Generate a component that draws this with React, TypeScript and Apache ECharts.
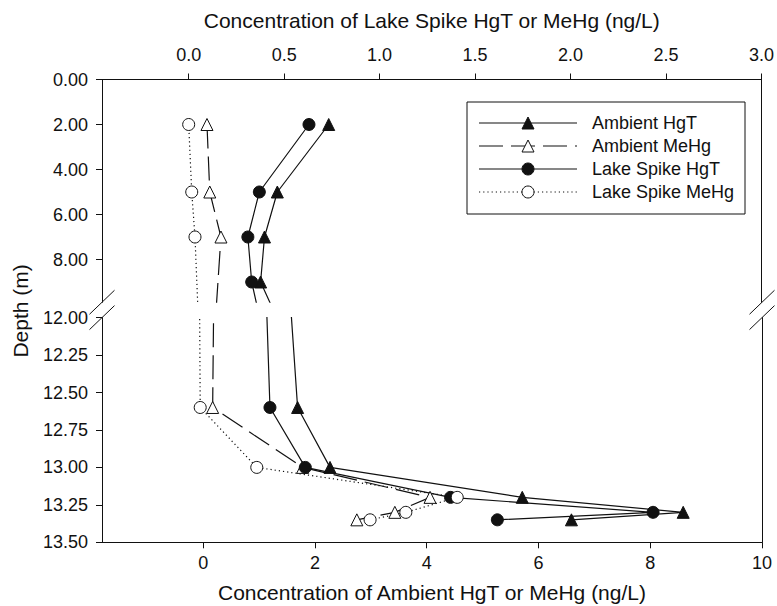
import React, { useEffect, useRef } from "react";
import * as echarts from "echarts";

// ---- data (depth in m, concentration in ng/L) ----
const ambientHgTDepth = [2, 5, 7, 9, 12.6, 13.0, 13.2, 13.3, 13.35];
const ambientHgT = [2.25, 1.33, 1.1, 1.03, 1.69, 2.27, 5.71, 8.59, 6.59];
const ambientMeHgDepth = [2, 5, 7, 12.6, 13.0, 13.2, 13.3, 13.35];
const ambientMeHg = [0.07, 0.12, 0.32, 0.17, 1.78, 4.06, 3.43, 2.75];
const lakeHgTDepth = [2, 5, 7, 9, 12.6, 13.0, 13.2, 13.3, 13.35];
const lakeHgT = [0.63, 0.37, 0.31, 0.33, 0.425, 0.61, 1.37, 2.43, 1.615];
const lakeMeHgDepth = [2, 5, 7, 12.6, 13.0, 13.2, 13.3, 13.35];
const lakeMeHg = [0.0, 0.016, 0.033, 0.06, 0.356, 1.405, 1.136, 0.949];

const ambientTicks = [0, 2, 4, 6, 8, 10];
const lakeTicks = [0, 0.5, 1, 1.5, 2, 2.5, 3];
const upperDepthTicks = [0, 2, 4, 6, 8];
const lowerDepthTicks = [12, 12.25, 12.5, 12.75, 13, 13.25, 13.5];

const seriesNames = ["Ambient HgT", "Ambient MeHg", "Lake Spike HgT", "Lake Spike MeHg"];

// ---- layout ----
const FONT = "Liberation Sans, Arial, Helvetica, sans-serif";
const L = 102;
const R = 762;
const UP_TOP = 79.5;
const UP_BOT = 302.25;
const LO_TOP = 317.6;
const LO_BOT = 542.3;
const AMB_MIN = -1.81;
const AMB_MAX = 10;
const LAKE_MIN = -0.454;
const LAKE_MAX = 3;
const UP_MAX = 9.9;
const LO_MIN = 12;
const LO_MAX = 13.5;
const INK = "#111";

function pairs(d: number[], v: number[]) {
  return d.map((y, i) => [v[i], y]);
}

const defs = [
  { name: seriesNames[0], data: pairs(ambientHgTDepth, ambientHgT), lake: false, symbol: "triangle", fill: INK, dash: "solid" as any },
  { name: seriesNames[1], data: pairs(ambientMeHgDepth, ambientMeHg), lake: false, symbol: "triangle", fill: "#fff", dash: [24, 8] as any },
  { name: seriesNames[2], data: pairs(lakeHgTDepth, lakeHgT), lake: true, symbol: "circle", fill: INK, dash: "solid" as any },
  { name: seriesNames[3], data: pairs(lakeMeHgDepth, lakeMeHg), lake: true, symbol: "circle", fill: "#fff", dash: [1.2, 3] as any },
];

export default function App() {
  const ref = useRef<HTMLDivElement>(null);
  useEffect(() => {
    if (!ref.current) return;
    const chart = echarts.init(ref.current, null, { renderer: "svg" });

    const axisLine = { show: true, onZero: false, lineStyle: { color: INK, width: 1 } };
    const tick = { show: true, length: 6, lineStyle: { color: INK, width: 1 } };
    const label = { color: INK, fontSize: 18, fontFamily: FONT };

    const grids = [
      { left: L, width: R - L, top: UP_TOP, height: UP_BOT - UP_TOP },
      { left: L, width: R - L, top: LO_TOP, height: LO_BOT - LO_TOP },
    ];

    const xAxis: any[] = [
      { gridIndex: 0, type: "value", position: "bottom", min: AMB_MIN, max: AMB_MAX, show: false, axisLine: { onZero: false }, splitLine: { show: false } },
      {
        gridIndex: 0, type: "value", position: "top", min: LAKE_MIN, max: LAKE_MAX,
        name: "Concentration of Lake Spike HgT or MeHg (ng/L)", nameLocation: "middle", nameGap: 49,
        nameTextStyle: { color: INK, fontSize: 21, fontFamily: FONT },
        axisLine, axisTick: { ...tick, customValues: lakeTicks },
        axisLabel: { ...label, margin: 16, customValues: lakeTicks, formatter: (v: number) => v.toFixed(1) },
        splitLine: { show: false },
      },
      {
        gridIndex: 1, type: "value", position: "bottom", min: AMB_MIN, max: AMB_MAX,
        name: "Concentration of Ambient HgT or MeHg (ng/L)", nameLocation: "middle", nameGap: 40,
        nameTextStyle: { color: INK, fontSize: 21, fontFamily: FONT },
        axisLine, axisTick: { ...tick, customValues: ambientTicks },
        axisLabel: { ...label, margin: 12, customValues: ambientTicks, formatter: (v: number) => String(v) },
        splitLine: { show: false },
      },
      { gridIndex: 1, type: "value", position: "top", min: LAKE_MIN, max: LAKE_MAX, show: false, axisLine: { onZero: false }, splitLine: { show: false } },
    ];

    const yAxis: any[] = [
      {
        gridIndex: 0, type: "value", position: "left", inverse: true, min: 0, max: UP_MAX,
        axisLine, axisTick: { ...tick, customValues: upperDepthTicks },
        axisLabel: { ...label, margin: 14, customValues: upperDepthTicks, formatter: (v: number) => v.toFixed(2) },
        splitLine: { show: false },
      },
      {
        gridIndex: 0, type: "value", position: "right", inverse: true, min: 0, max: UP_MAX,
        axisLine, axisTick: { show: false }, axisLabel: { show: false }, splitLine: { show: false },
      },
      {
        gridIndex: 1, type: "value", position: "left", inverse: true, min: LO_MIN, max: LO_MAX,
        axisLine, axisTick: { ...tick, customValues: lowerDepthTicks },
        axisLabel: { ...label, margin: 14, customValues: lowerDepthTicks, formatter: (v: number) => v.toFixed(2) },
        splitLine: { show: false },
      },
      {
        gridIndex: 1, type: "value", position: "right", inverse: true, min: LO_MIN, max: LO_MAX,
        axisLine, axisTick: { show: false }, axisLabel: { show: false }, splitLine: { show: false },
      },
    ];

    const series: any[] = [];
    [0, 1].forEach((g) => {
      defs.forEach((d) => {
        series.push({
          type: "line",
          name: d.name,
          data: d.data,
          xAxisIndex: d.lake ? (g === 0 ? 1 : 3) : g === 0 ? 0 : 2,
          yAxisIndex: g === 0 ? 0 : 2,
          clip: true,
          symbol: d.symbol,
          symbolSize: 12,
          showSymbol: true,
          silent: true,
          lineStyle: { color: INK, width: 1.2, type: d.dash },
          itemStyle: { color: d.fill, borderColor: INK, borderWidth: 1 },
          emphasis: { disabled: true },
        });
      });
    });

    // legend (drawn as graphics)
    const legendX0 = 479;
    const legendX1 = 577;
    const legendMid = 528;
    const legendTextX = 592;
    const legendYs = [123, 146, 169, 192];
    const legendEls: any[] = [
      { type: "rect", shape: { x: 467, y: 102, width: 278, height: 112 }, style: { fill: "#fff", stroke: INK, lineWidth: 1 }, z: 10 },
    ];
    defs.forEach((d, i) => {
      const y = legendYs[i];
      legendEls.push({
        type: "line", z: 11,
        shape: { x1: legendX0, y1: y, x2: legendX1, y2: y },
        style: { stroke: INK, lineWidth: 1.2, lineDash: Array.isArray(d.dash) ? d.dash : null },
      });
      if (d.symbol === "triangle") {
        legendEls.push({
          type: "polygon", z: 12,
          shape: { points: [[legendMid, y - 6], [legendMid + 6, y + 6], [legendMid - 6, y + 6]] },
          style: { fill: d.fill, stroke: INK, lineWidth: 1 },
        });
      } else {
        legendEls.push({
          type: "circle", z: 12,
          shape: { cx: legendMid, cy: y, r: 6 },
          style: { fill: d.fill, stroke: INK, lineWidth: 1 },
        });
      }
      legendEls.push({
        type: "text", z: 12, x: legendTextX, y,
        style: {
          text: d.name, fill: INK, font: `18px ${FONT}`,
          align: "left", verticalAlign: "middle", textAlign: "left", textVerticalAlign: "middle",
        },
      });
    });

    // axis break marks
    const slash = (cx: number, cy: number) => ({
      type: "line", z: 20,
      shape: { x1: cx - 12.5, y1: cy + 12, x2: cx + 12.5, y2: cy - 12 },
      style: { stroke: INK, lineWidth: 1 },
    });

    const graphic: any[] = [
      ...legendEls,
      slash(L, UP_BOT),
      slash(L, LO_TOP),
      slash(R, UP_BOT),
      slash(R, LO_TOP),
      {
        type: "text", x: 20.5, y: (UP_TOP + LO_BOT) / 2, rotation: Math.PI / 2,
        style: {
          text: "Depth (m)", fill: INK, font: `21px ${FONT}`,
          align: "center", verticalAlign: "middle", textAlign: "center", textVerticalAlign: "middle",
        },
      },
    ];

    chart.setOption({
      animation: false,
      backgroundColor: "#fff",
      textStyle: { fontFamily: FONT },
      grid: grids,
      xAxis,
      yAxis,
      series,
      graphic,
    });

    return () => chart.dispose();
  }, []);

  return <div ref={ref} style={{ position: "absolute", left: 0, top: 0, width: 777, height: 606 }} />;
}
